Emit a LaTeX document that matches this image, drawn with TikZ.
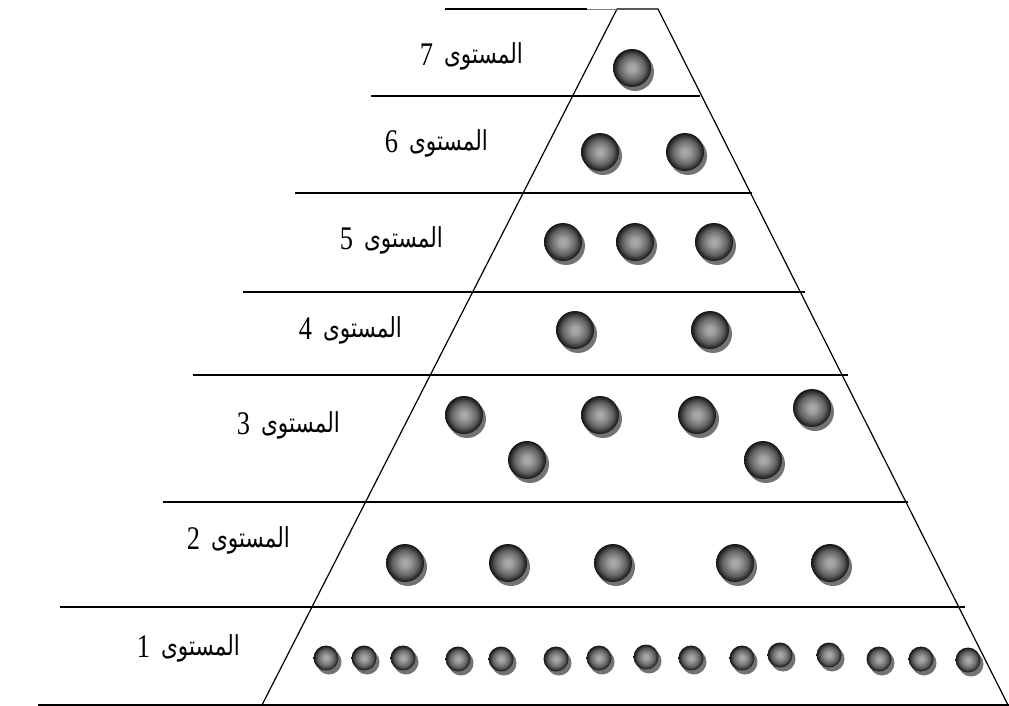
\documentclass[tikz,border=0pt]{standalone}
\usepackage{fontspec}
\setmainfont{Liberation Serif}
\newfontfamily\digitfont{Liberation Serif}
\newfontfamily\arabicfont[Script=Arabic]{DejaVu Sans}
\TeXXeTstate=1
\pgfdeclareradialshading{myball}{\pgfpoint{0bp}{0bp}}{color(0bp)=(black!32); color(6bp)=(black!38); color(17bp)=(black!62); color(23bp)=(black!85); color(25bp)=(black!92); color(50bp)=(black!92)}
\begin{document}
\begin{tikzpicture}[x=1pt,y=-1pt,
  lvl/.style={line width=1.2pt},
  lbl/.style={inner sep=0pt, anchor=east},
  ballshade/.style={shading=myball},
  ballshadow/.style={fill=black!55},
]
\useasboundingbox (0,0) rectangle (1009,706);
% pyramid
\coordinate (tl) at (617,9);
\coordinate (tr) at (658,9);
\coordinate (bl) at (262,705);
\coordinate (br) at (1008,705);
\draw[line width=1.2pt] (bl) -- (tl) -- (tr) -- (br);
% level lines
\draw[lvl] (445,9) -- (587,9);
\draw[line width=0.5pt, gray] (587,9) -- (tl);
\draw[lvl] (371,96) -- (700,96);
\draw[lvl] (295,193) -- (752,193);
\draw[lvl] (243,292) -- (805,292);
\draw[lvl] (193,375) -- (848,375);
\draw[lvl] (163,502) -- (908,502);
\draw[lvl] (60,607) -- (965,607);
\draw[line width=1.6pt] (38,705) -- (1009,705);
% labels
\newcommand\lvltext[1]{\raisebox{-2pt}{\scalebox{0.8}[1]{\digitfont\fontsize{33}{36}\selectfont #1}}\hspace{11pt}{\arabicfont\scalebox{0.98}[1.25]{\fontsize{22}{24}\selectfont\beginR المستوى\endR}}}
\node[lbl] (l7) at (523,56) {\lvltext{7}};
\node[lbl] (l6) at (488,143) {\lvltext{6}};
\node[lbl] (l5) at (443,240) {\lvltext{5}};
\node[lbl] (l4) at (402,330) {\lvltext{4}};
\node[lbl] (l3) at (340,425) {\lvltext{3}};
\node[lbl] (l2) at (290,540) {\lvltext{2}};
\node[lbl] (l1) at (240,648) {\lvltext{1}};
% balls
\newcommand\bigball[2]{%
  \fill[ballshadow] (#1+3,#2+4) circle (19);
  \shade[ballshade] (#1,#2) circle (19);}
\newcommand\smallball[2]{%
  \fill[ballshadow] (#1+3,#2+4) circle (12.5);
  \shade[ballshade] (#1,#2) circle (12.5);}
\bigball{632}{68}
\bigball{600}{152}\bigball{685}{152}
\bigball{563}{242}\bigball{635}{242}\bigball{714}{242}
\bigball{575}{330}\bigball{710}{330}
\bigball{464}{415}\bigball{527}{460}\bigball{600}{415}\bigball{697}{415}\bigball{812}{408}\bigball{763}{460}
\bigball{405}{563}\bigball{508}{563}\bigball{613}{563}\bigball{735}{563}\bigball{830}{563}
\foreach \x/\y in {326/658,364/658,403/658,458/659,501/659,556/659,599/658,646/657,691/658,742/658,780/655,829/655,879/659,921/659,968/660}
  {\smallball{\x}{\y}}
\end{tikzpicture}
\end{document}
